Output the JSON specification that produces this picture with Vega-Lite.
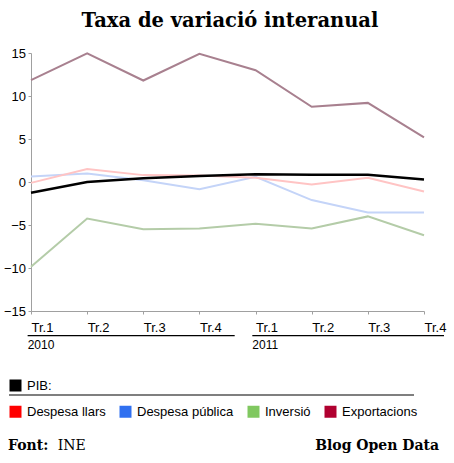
{
  "$schema": "https://vega.github.io/schema/vega-lite/v6.json",
  "width": 393,
  "height": 258,
  "autosize": {"type": "none"},
  "padding": {"left": 31, "top": 53, "right": 30, "bottom": 152},
  "background": "white",
  "title": {
    "text": "Taxa de variació interanual",
    "font": "DejaVu Serif",
    "fontSize": 19.5,
    "fontWeight": "bold",
    "color": "#000000",
    "anchor": "middle",
    "frame": "group",
    "dx": 2.5,
    "offset": 16
  },
  "datasets": {
    "d": [
      {"t": 2010.0, "s": "PIB", "v": -1.25},
      {"t": 2010.25, "s": "PIB", "v": 0.0},
      {"t": 2010.5, "s": "PIB", "v": 0.45},
      {"t": 2010.75, "s": "PIB", "v": 0.7},
      {"t": 2011.0, "s": "PIB", "v": 0.9},
      {"t": 2011.25, "s": "PIB", "v": 0.85},
      {"t": 2011.5, "s": "PIB", "v": 0.85},
      {"t": 2011.75, "s": "PIB", "v": 0.3},
      {"t": 2010.0, "s": "Despesa llars", "v": -0.1},
      {"t": 2010.25, "s": "Despesa llars", "v": 1.5},
      {"t": 2010.5, "s": "Despesa llars", "v": 0.8},
      {"t": 2010.75, "s": "Despesa llars", "v": 0.75},
      {"t": 2011.0, "s": "Despesa llars", "v": 0.5},
      {"t": 2011.25, "s": "Despesa llars", "v": -0.3},
      {"t": 2011.5, "s": "Despesa llars", "v": 0.5},
      {"t": 2011.75, "s": "Despesa llars", "v": -1.1},
      {"t": 2010.0, "s": "Despesa pública", "v": 0.65},
      {"t": 2010.25, "s": "Despesa pública", "v": 1.0},
      {"t": 2010.5, "s": "Despesa pública", "v": 0.2},
      {"t": 2010.75, "s": "Despesa pública", "v": -0.85},
      {"t": 2011.0, "s": "Despesa pública", "v": 0.6},
      {"t": 2011.25, "s": "Despesa pública", "v": -2.1},
      {"t": 2011.5, "s": "Despesa pública", "v": -3.55},
      {"t": 2011.75, "s": "Despesa pública", "v": -3.55},
      {"t": 2010.0, "s": "Inversió", "v": -9.85},
      {"t": 2010.25, "s": "Inversió", "v": -4.25},
      {"t": 2010.5, "s": "Inversió", "v": -5.5},
      {"t": 2010.75, "s": "Inversió", "v": -5.4},
      {"t": 2011.0, "s": "Inversió", "v": -4.85},
      {"t": 2011.25, "s": "Inversió", "v": -5.4},
      {"t": 2011.5, "s": "Inversió", "v": -4.0},
      {"t": 2011.75, "s": "Inversió", "v": -6.2},
      {"t": 2010.0, "s": "Exportacions", "v": 11.85},
      {"t": 2010.25, "s": "Exportacions", "v": 14.95},
      {"t": 2010.5, "s": "Exportacions", "v": 11.8},
      {"t": 2010.75, "s": "Exportacions", "v": 14.9},
      {"t": 2011.0, "s": "Exportacions", "v": 13.0},
      {"t": 2011.25, "s": "Exportacions", "v": 8.75},
      {"t": 2011.5, "s": "Exportacions", "v": 9.2},
      {"t": 2011.75, "s": "Exportacions", "v": 5.2}
    ]
  },
  "data": {"name": "d"},
  "config": {
    "view": {"stroke": null},
    "axis": {
      "labelFont": "Liberation Sans",
      "labelFontSize": 13,
      "labelColor": "#000000",
      "domainColor": "#a0a0a0",
      "tickColor": "#a0a0a0",
      "grid": false,
      "title": null
    }
  },
  "layer": [
    {
      "transform": [{"filter": "datum.s === 'Exportacions'"}],
      "mark": {"type": "line", "strokeWidth": 2, "color": "#a8808f"},
      "encoding": {
        "x": {
          "field": "t",
          "type": "quantitative",
          "scale": {"domain": [2010, 2011.75], "nice": false, "zero": false},
          "axis": {
            "values": [2010, 2010.25, 2010.5, 2010.75, 2011, 2011.25, 2011.5, 2011.75],
            "labelExpr": "'Tr.' + (round((datum.value - floor(datum.value)) * 4) + 1)",
            "labelAlign": "left",
            "labelDx": -4,
            "labelPadding": 7,
            "tickSize": 3,
            "labelFlush": false,
            "labelOverlap": false,
            "labelBound": false
          }
        },
        "y": {
          "field": "v",
          "type": "quantitative",
          "scale": {"domain": [-15, 15], "nice": false, "zero": false},
          "axis": {
            "values": [-15, -12.5, -10, -7.5, -5, -2.5, 0, 2.5, 5, 7.5, 10, 12.5, 15],
            "labelExpr": "datum.value % 5 === 0 ? datum.label : ''",
            "tickColor": {"condition": {"test": "datum.value % 5 === 0", "value": "#a0a0a0"}, "value": "#dcdcdc"},
            "tickSize": 3,
            "labelPadding": 2.5,
            "labelOverlap": false,
            "labelFlush": false
          }
        }
      }
    },
    {
      "transform": [{"filter": "datum.s === 'Inversió'"}],
      "mark": {"type": "line", "strokeWidth": 2, "color": "#b4cca8"},
      "encoding": {
        "x": {"field": "t", "type": "quantitative"},
        "y": {"field": "v", "type": "quantitative"}
      }
    },
    {
      "transform": [{"filter": "datum.s === 'Despesa pública'"}],
      "mark": {"type": "line", "strokeWidth": 2, "color": "#c4d4f8"},
      "encoding": {
        "x": {"field": "t", "type": "quantitative"},
        "y": {"field": "v", "type": "quantitative"}
      }
    },
    {
      "transform": [{"filter": "datum.s === 'Despesa llars'"}],
      "mark": {"type": "line", "strokeWidth": 2, "color": "#ffc4c4"},
      "encoding": {
        "x": {"field": "t", "type": "quantitative"},
        "y": {"field": "v", "type": "quantitative"}
      }
    },
    {
      "transform": [{"filter": "datum.s === 'PIB'"}],
      "mark": {"type": "line", "strokeWidth": 2.5, "color": "#000000"},
      "encoding": {
        "x": {"field": "t", "type": "quantitative"},
        "y": {"field": "v", "type": "quantitative"}
      }
    },
    {
      "transform": [{"filter": "datum.s !== 'PIB'"}],
      "mark": {"type": "square", "opacity": 0},
      "encoding": {
        "x": {"field": "t", "type": "quantitative"},
        "y": {"field": "v", "type": "quantitative"},
        "fill": {
          "field": "s",
          "type": "nominal",
          "scale": {
            "domain": ["Despesa llars", "Despesa pública", "Inversió", "Exportacions"],
            "range": ["#ff0000", "#3070f0", "#80c860", "#b00030"]
          },
          "legend": {
            "orient": "none",
            "legendX": -22,
            "legendY": 352,
            "direction": "horizontal",
            "columns": 4,
            "title": null,
            "symbolType": "square",
            "symbolSize": 144,
            "symbolOpacity": 1,
            "symbolStrokeWidth": 0,
            "labelFont": "Liberation Sans",
            "labelFontSize": 13,
            "labelColor": "#000000",
            "labelOffset": 5,
            "columnPadding": 13,
            "padding": 0,
            "labelLimit": 0
          }
        }
      }
    },
    {
      "transform": [{"filter": "datum.s === 'PIB'"}],
      "mark": {"type": "point", "filled": true, "opacity": 0, "color": "#000000"},
      "encoding": {
        "x": {"field": "t", "type": "quantitative"},
        "y": {"field": "v", "type": "quantitative"},
        "shape": {
          "field": "s",
          "type": "nominal",
          "scale": {"domain": ["PIB"], "range": ["square"]},
          "legend": {
            "orient": "none",
            "legendX": -22,
            "legendY": 326,
            "title": null,
            "labelExpr": "datum.label + ':'",
            "symbolSize": 144,
            "symbolOpacity": 1,
            "symbolFillColor": "#000000",
            "symbolStrokeWidth": 0,
            "labelFont": "Liberation Sans",
            "labelFontSize": 13,
            "labelColor": "#000000",
            "labelOffset": 5,
            "padding": 0
          }
        }
      }
    },
    {
      "data": {"values": [{}]},
      "mark": {"type": "rule", "color": "#000000", "strokeWidth": 1.2},
      "encoding": {
        "x": {"datum": 2009.985, "type": "quantitative"},
        "x2": {"datum": 2010.907},
        "y": {"datum": -17.87, "type": "quantitative"}
      }
    },
    {
      "data": {"values": [{}]},
      "mark": {"type": "rule", "color": "#000000", "strokeWidth": 1.2},
      "encoding": {
        "x": {"datum": 2010.9855, "type": "quantitative"},
        "x2": {"datum": 2011.839},
        "y": {"datum": -17.87, "type": "quantitative"}
      }
    },
    {
      "data": {"values": [{}]},
      "mark": {"type": "rule", "color": "#000000", "strokeWidth": 1.2},
      "encoding": {
        "x": {"datum": 2009.902, "type": "quantitative"},
        "x2": {"datum": 2011.7055},
        "y": {"datum": -24.77, "type": "quantitative"}
      }
    },
    {
      "data": {"values": [{"txt": "2010", "t": 2009.985}, {"txt": "2011", "t": 2010.9855}]},
      "mark": {"type": "text", "align": "left", "baseline": "alphabetic", "font": "Liberation Sans", "fontSize": 12, "color": "#000000"},
      "encoding": {
        "x": {"field": "t", "type": "quantitative"},
        "y": {"datum": -19.42, "type": "quantitative"},
        "text": {"field": "txt"}
      }
    },
    {
      "data": {"values": [{}]},
      "mark": {"type": "text", "text": "Font:", "align": "left", "baseline": "alphabetic", "font": "DejaVu Serif", "fontSize": 14, "fontWeight": "bold", "color": "#000000"},
      "encoding": {
        "x": {"datum": 2009.8975, "type": "quantitative"},
        "y": {"datum": -31.16, "type": "quantitative"}
      }
    },
    {
      "data": {"values": [{}]},
      "mark": {"type": "text", "text": "INE", "align": "left", "baseline": "alphabetic", "font": "DejaVu Serif", "fontSize": 14, "color": "#000000"},
      "encoding": {
        "x": {"datum": 2010.119, "type": "quantitative"},
        "y": {"datum": -31.16, "type": "quantitative"}
      }
    },
    {
      "data": {"values": [{}]},
      "mark": {"type": "text", "text": "Blog Open Data", "align": "right", "baseline": "alphabetic", "font": "DejaVu Serif", "fontSize": 14, "fontWeight": "bold", "color": "#000000"},
      "encoding": {
        "x": {"datum": 2011.817, "type": "quantitative"},
        "y": {"datum": -31.16, "type": "quantitative"}
      }
    }
  ]
}
